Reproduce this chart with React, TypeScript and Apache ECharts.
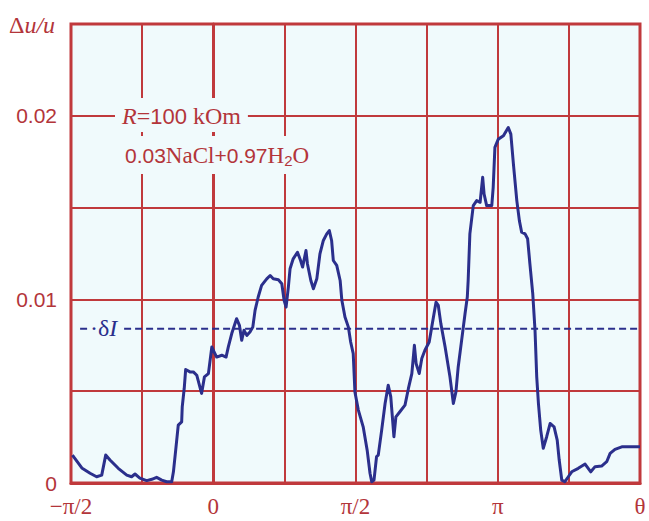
import React, { useEffect, useRef } from 'react';
import * as echarts from 'echarts';

// theta in units of pi
const curveTheta = [
  -0.495, -0.462, -0.433, -0.410, -0.392, -0.378, -0.363, -0.334, -0.304, -0.287,
  -0.275, -0.258, -0.234, -0.216, -0.199, -0.181, -0.164, -0.146, -0.140, -0.132,
  -0.123, -0.111, -0.109, -0.102, -0.097, -0.082, -0.070, -0.058, -0.041, -0.031,
  -0.017, -0.005, 0.000, 0.012, 0.030, 0.045, 0.053, 0.065, 0.082, 0.092,
  0.100, 0.108, 0.118, 0.129, 0.139, 0.147, 0.158, 0.170, 0.188, 0.200,
  0.211, 0.229, 0.241, 0.249, 0.256, 0.264, 0.270, 0.281, 0.296, 0.307,
  0.314, 0.326, 0.331, 0.343, 0.352, 0.364, 0.375, 0.387, 0.399, 0.408,
  0.416, 0.422, 0.434, 0.446, 0.452, 0.463, 0.475, 0.483, 0.492, 0.498,
  0.510, 0.527, 0.541, 0.551, 0.557, 0.565, 0.574, 0.580, 0.592, 0.604,
  0.615, 0.624, 0.635, 0.642, 0.656, 0.674, 0.686, 0.698, 0.707, 0.713,
  0.724, 0.733, 0.744, 0.759, 0.774, 0.783, 0.791, 0.800, 0.815, 0.832,
  0.844, 0.853, 0.861, 0.873, 0.885, 0.893, 0.896, 0.902, 0.914, 0.926,
  0.938, 0.947, 0.952, 0.961, 0.979, 0.984, 0.990, 1.002, 1.020, 1.037,
  1.046, 1.055, 1.067, 1.076, 1.084, 1.096, 1.105, 1.113, 1.123, 1.131,
  1.137, 1.143, 1.151, 1.160, 1.172, 1.184, 1.198, 1.209, 1.216, 1.225,
  1.236, 1.248, 1.260, 1.283, 1.307, 1.327, 1.342, 1.365, 1.383, 1.395,
  1.412, 1.436, 1.494, 1.500,
];

const curveValue = [
  0.00152, 0.00082, 0.00053, 0.00034, 0.00043, 0.00152, 0.00125, 0.00080, 0.00043, 0.00034,
  0.00049, 0.00027, 0.00013, 0.00020, 0.00031, 0.00016, 0.00007, 0.00007, 0.00061, 0.00179,
  0.00315, 0.00333, 0.00415, 0.00516, 0.00618, 0.00605, 0.00605, 0.00587, 0.00488, 0.00578,
  0.00596, 0.00741, 0.00723, 0.00686, 0.00696, 0.00686, 0.00741, 0.00814, 0.00895, 0.00859,
  0.00777, 0.00832, 0.00804, 0.00822, 0.00849, 0.00940, 0.01013, 0.01076, 0.01112, 0.01130,
  0.01112, 0.01107, 0.01085, 0.00995, 0.00958, 0.01067, 0.01167, 0.01221, 0.01257, 0.01212,
  0.01176, 0.01266, 0.01194, 0.01103, 0.01058, 0.01112, 0.01248, 0.01321, 0.01357, 0.01375,
  0.01321, 0.01212, 0.01185, 0.01103, 0.00995, 0.00904, 0.00849, 0.00768, 0.00705, 0.00496,
  0.00397, 0.00306, 0.00179, 0.00053, 0.00007, 0.00016, 0.00144, 0.00152, 0.00288, 0.00433,
  0.00533, 0.00469, 0.00252, 0.00360, 0.00388, 0.00424, 0.00515, 0.00596, 0.00750, 0.00651,
  0.00596, 0.00678, 0.00723, 0.00768, 0.00904, 0.00985, 0.00967, 0.00868, 0.00741, 0.00578,
  0.00433, 0.00496, 0.00632, 0.00777, 0.00922, 0.01013, 0.01103, 0.01357, 0.01511, 0.01538,
  0.01529, 0.01665, 0.01574, 0.01511, 0.01511, 0.01610, 0.01828, 0.01873, 0.01891, 0.01936,
  0.01900, 0.01738, 0.01538, 0.01429, 0.01366, 0.01357, 0.01330, 0.01194, 0.01031, 0.00832,
  0.00578, 0.00433, 0.00288, 0.00189, 0.00252, 0.00324, 0.00306, 0.00234, 0.00125, 0.00016,
  0.00007, 0.00034, 0.00061, 0.00080, 0.00103, 0.00061, 0.00089, 0.00092, 0.00116, 0.00161,
  0.00183, 0.00197, 0.00197, 0.00197,
];

const deltaILevel = 0.0084;
const deltaIStart = -0.468;
const deltaIEnd = 1.5;

const xTickValues = [-0.5, 0, 0.5, 1, 1.5];
const xTickLabels = ['\u2212\u03c0/2', '0', '\u03c0/2', '\u03c0', '\u03b8'];
const yTickValues = [0, 0.01, 0.02];
const yTickLabels = ['0', '0.01', '0.02'];

const RED = '#c0393c';
const TEXT_RED = '#b3353a';
const NAVY = '#2b2f8c';
const BG = '#f0fafc';
const SERIF = '"Liberation Serif", "DejaVu Serif", serif';
const SANS = '"Liberation Sans", Arial, sans-serif';

export default function App() {
  const ref = useRef<HTMLDivElement>(null);
  useEffect(() => {
    document.body.style.margin = '0';
    if (!ref.current) return;
    const chart = echarts.init(ref.current, undefined, { renderer: 'svg' });
    const curve = curveTheta.map((t, i) => [t, curveValue[i]]);
    const findLabel = (vals: number[], labels: string[], v: number) => {
      const idx = vals.findIndex((x) => Math.abs(x - v) < 1e-9);
      return idx >= 0 ? labels[idx] : '';
    };
    chart.setOption({
      animation: false,
      grid: {
        left: 71,
        right: 9,
        top: 24,
        bottom: 38,
        show: true,
        backgroundColor: BG,
        borderColor: RED,
        borderWidth: 3,
      },
      xAxis: {
        type: 'value',
        min: -0.5,
        max: 1.5,
        interval: 0.25,
        axisLine: { show: true, onZero: false, lineStyle: { color: RED, width: 3 } },
        axisTick: { show: false },
        splitLine: { show: true, lineStyle: { color: RED, width: 2 } },
        axisLabel: {
          show: true,
          showMinLabel: true,
          showMaxLabel: true,
          margin: 12,
          color: TEXT_RED,
          fontFamily: SERIF,
          fontSize: 23,
          formatter: (v: number) => findLabel(xTickValues, xTickLabels, v),
        },
      },
      yAxis: {
        type: 'value',
        min: 0,
        max: 0.025,
        interval: 0.005,
        axisLine: { show: true, lineStyle: { color: RED, width: 3 } },
        axisTick: { show: false },
        splitLine: { show: true, lineStyle: { color: RED, width: 2 } },
        axisLabel: {
          show: true,
          margin: 14,
          color: TEXT_RED,
          fontFamily: SANS,
          fontSize: 21,
          formatter: (v: number) => findLabel(yTickValues, yTickLabels, v),
        },
      },
      series: [
        {
          type: 'line',
          data: [
            [deltaIStart, deltaILevel],
            [deltaIEnd, deltaILevel],
          ],
          showSymbol: false,
          silent: true,
          lineStyle: { color: NAVY, width: 2, type: [7, 4] },
          z: 3,
        },
        {
          type: 'line',
          data: curve,
          showSymbol: false,
          smooth: false,
          lineStyle: { color: NAVY, width: 3, join: 'round' },
          z: 4,
        },
      ],
      graphic: [
        {
          type: 'text',
          x: 9,
          y: 25,
          z: 100,
          style: {
            text: '{n|\u0394}{i|u/u}',
            verticalAlign: 'middle',
            align: 'left',
            rich: {
              n: { fontFamily: SERIF, fontSize: 24, fill: TEXT_RED },
              i: { fontFamily: SERIF, fontSize: 24, fontStyle: 'italic', fill: TEXT_RED },
            },
          },
        },
        {
          type: 'text',
          x: 115,
          y: 115,
          z: 100,
          style: {
            text: '{i|R}{s|=}{a|100}{s| kOm}',
            verticalAlign: 'middle',
            align: 'left',
            backgroundColor: BG,
            padding: [6, 7, 4, 7],
            rich: {
              i: { fontFamily: SERIF, fontSize: 24, fontStyle: 'italic', fill: TEXT_RED },
              s: { fontFamily: SERIF, fontSize: 24, fill: TEXT_RED },
              a: { fontFamily: SANS, fontSize: 22, fill: TEXT_RED },
            },
          },
        },
        {
          type: 'text',
          x: 119,
          y: 155,
          z: 100,
          style: {
            text: '{a|0.03}{s|NaCl}{a|+0.97}{s|H}{b|2}{s|O}',
            verticalAlign: 'middle',
            align: 'left',
            backgroundColor: BG,
            padding: [6, 6, 6, 6],
            rich: {
              a: { fontFamily: SANS, fontSize: 21, fill: TEXT_RED, lineHeight: 26 },
              s: { fontFamily: SERIF, fontSize: 23, fill: TEXT_RED, lineHeight: 26 },
              b: { fontFamily: SANS, fontSize: 15, fill: TEXT_RED, lineHeight: 14, verticalAlign: 'bottom' },
            },
          },
        },
        {
          type: 'text',
          x: 88,
          y: 328,
          z: 100,
          style: {
            text: '{n|\u00b7\u03b4}{i|I}',
            verticalAlign: 'middle',
            align: 'left',
            backgroundColor: BG,
            padding: [2, 4, 2, 2],
            rich: {
              n: { fontFamily: SERIF, fontSize: 24, fill: NAVY },
              i: { fontFamily: SERIF, fontSize: 24, fontStyle: 'italic', fill: NAVY },
            },
          },
        },
      ],
    });
    return () => chart.dispose();
  }, []);
  return <div ref={ref} style={{ width: 649, height: 521 }} />;
}
